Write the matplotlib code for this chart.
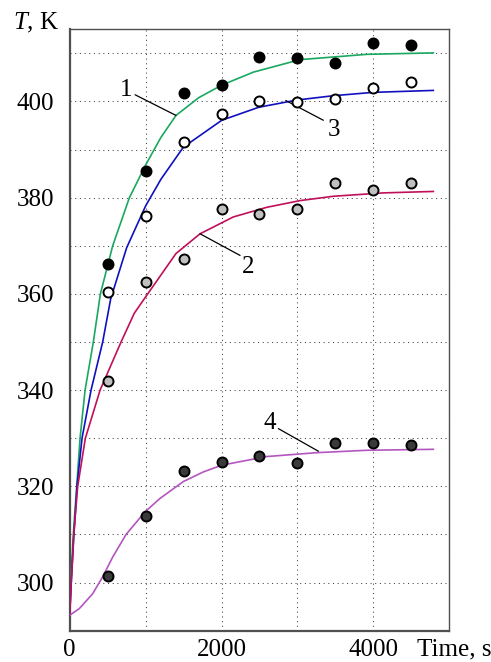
import matplotlib
matplotlib.use("Agg")
import matplotlib.pyplot as plt

plt.rcParams['font.family'] = ['Liberation Serif', 'DejaVu Serif']
plt.rcParams['mathtext.fontset'] = 'custom'
plt.rcParams['mathtext.rm'] = 'Liberation Serif'
plt.rcParams['mathtext.it'] = 'Liberation Serif:italic'

# measured points
t_pts = [500, 1000, 1500, 2000, 2500, 3000, 3500, 4000, 4500]
T1_pts = [366.3, 385.6, 401.7, 403.4, 409.3, 409.1, 408.0, 412.1, 411.8]
T2_pts = [341.8, 362.5, 367.3, 377.7, 376.6, 377.7, 383.0, 381.7, 383.0]
T3_pts = [360.4, 376.1, 391.5, 397.3, 400.1, 399.9, 400.6, 402.8, 404.0]
T4_pts = [301.4, 313.8, 323.1, 325.1, 326.4, 324.8, 329.0, 329.0, 328.6]

# calculated curves
t1 = [0, 13, 47, 92, 136, 202, 311, 404, 566, 786, 1000, 1200, 1400, 1700,
      2003, 2419, 3034, 3913, 4790]
c1 = [293.2, 300.0, 310.0, 320.0, 330.0, 340.0, 350.0, 360.0, 370.0, 380.0, 386.8,
      392.5, 397.1, 400.8, 403.4, 406.1, 408.7, 409.8, 410.1]
t3 = [0, 20, 55, 96, 162, 281, 434, 540, 750, 1000, 1200, 1497, 2003, 2490,
      2991, 3473, 4000, 4790]
c3 = [293.2, 300.0, 310.0, 320.0, 330.0, 340.0, 350.0, 359.0, 369.6, 378.3, 383.8,
      390.5, 396.1, 398.8, 400.3, 401.2, 401.9, 402.3]
t2 = [0, 20, 53, 105, 206, 400, 676, 851, 1027, 1400, 1717, 2155, 2595, 3034,
      3473, 4132, 4790]
c2 = [293.2, 300.0, 310.0, 320.0, 330.0, 340.0, 350.0, 356.0, 360.0, 368.4, 372.5,
      376.0, 378.0, 379.4, 380.3, 381.0, 381.3]
t4 = [0, 127, 303, 434, 566, 742, 992, 1190, 1497, 1760, 2003, 2595, 3254, 3913, 4790]
c4 = [293.2, 294.6, 297.7, 301.2, 305.3, 310.0, 314.7, 317.5, 321.0, 323.0, 324.4,
      326.2, 327.0, 327.5, 327.7]

fs = 18

fig = plt.figure(figsize=(4.91, 6.62), dpi=100)
ax = fig.add_axes([0.142, 0.0473, 0.773, 0.9084])

ax.plot(t1, c1, color='#1aa860', lw=1.2, zorder=3)
ax.plot(t3, c3, color='#1010c0', lw=1.2, zorder=3)
ax.plot(t2, c2, color='#c0105a', lw=1.2, zorder=3)
ax.plot(t4, c4, color='#b455c0', lw=1.2, zorder=3)

mk = dict(ls='none', marker='o', ms=7.2, mec='black', mew=1.4, zorder=4)
ax.plot(t_pts, T1_pts, mfc='black', **mk)
ax.plot(t_pts, T3_pts, mfc='white', **mk)
ax.plot(t_pts, T2_pts, mfc='#c0c0c0', **mk)
ax.plot(t_pts, T4_pts, mfc='#3a3a3a', **mk)

# curve numbers with leader lines
leader = dict(arrowstyle='-', color='black', lw=0.9, shrinkA=0, shrinkB=0)
ax.text(742, 402.3, '1', fontsize=fs, ha='center', va='center')
ax.annotate('', xy=(1400, 397.1), xytext=(861, 401.4), arrowprops=leader)
ax.text(3486, 394.1, '3', fontsize=fs, ha='center', va='center')
ax.annotate('', xy=(2846, 400.2), xytext=(3341, 396.1), arrowprops=leader)
ax.text(2353, 365.6, '2', fontsize=fs, ha='center', va='center')
ax.annotate('', xy=(1717, 372.5), xytext=(2244, 368.0), arrowprops=leader)
ax.text(2630, 333.1, '4', fontsize=fs, ha='center', va='center')
ax.annotate('', xy=(3276, 327.3), xytext=(2749, 332.0), arrowprops=leader)

ax.set_xlim(0, 5000)
ax.set_ylim(290, 415)
ax.set_xticks(range(0, 5001, 1000))
ax.set_xticklabels(['0', '', '2000', '', '4000', ''])
ax.set_yticks(range(290, 411, 10))
ax.set_yticklabels(['' if (v % 20 or v == 290) else str(v) for v in range(290, 411, 10)])
ax.tick_params(length=0, labelsize=fs)
ax.tick_params(axis='x', pad=6)
ax.tick_params(axis='y', pad=11)
ax.grid(True, color='#444444', lw=0.75, linestyle=(0, (1, 3.5)))

for side in ['left', 'bottom']:
    ax.spines[side].set_linewidth(1.6)
    ax.spines[side].set_color('#505050')
for side in ['top', 'right']:
    ax.spines[side].set_linewidth(1.0)
    ax.spines[side].set_color('#505050')

fig.text(12.7 / 491, 1 - 22.7 / 662, '$T$, K', fontsize=fs, ha='left', va='center')
fig.text(417 / 491, 1 - 649 / 662, 'Time, s', fontsize=fs, ha='left', va='center')

fig.savefig('out.png', dpi=100)
